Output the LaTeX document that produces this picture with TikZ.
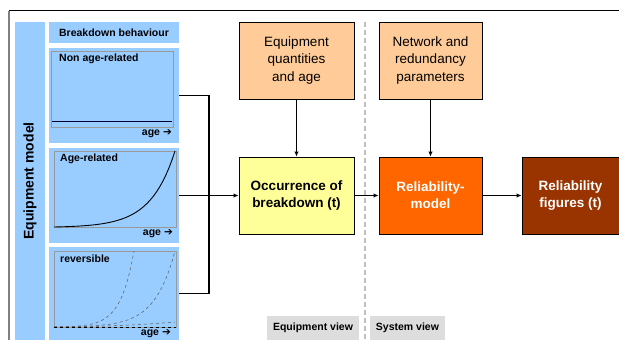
\documentclass[tikz,border=0pt]{standalone}
\usepackage{fontspec}
\setmainfont{Liberation Sans}
\newfontfamily\arrowfont{DejaVu Sans}
\usetikzlibrary{arrows.meta}

\definecolor{panelblue}{HTML}{99CCFF}
\definecolor{peach}{HTML}{FFCC99}
\definecolor{paleyellow}{HTML}{FFFF99}
\definecolor{relorange}{HTML}{FF6600}
\definecolor{relbrown}{HTML}{993300}
\definecolor{viewgray}{HTML}{DDDDDD}
\definecolor{framegray}{HTML}{999999}

\newcommand{\agearrow}{age {\arrowfont ➔}}

\tikzset{
  inputbox/.style={draw=black, line width=0.9pt, fill=peach, align=center,
    font=\fontsize{13.5}{17.5}\selectfont, inner sep=0pt},
  mainbox/.style={draw=black, line width=0.9pt, align=center,
    font=\fontsize{13.5}{17}\selectfont\bfseries, inner sep=0pt},
  panel/.style={fill=panelblue, minimum width=130pt, inner sep=0pt},
  small/.style={font=\fontsize{10.5}{12}\selectfont\bfseries, inner sep=0pt},
  viewlabel/.style={fill=viewgray, minimum height=24pt, inner sep=0pt,
    font=\fontsize{10.5}{12}\selectfont\bfseries},
  link/.style={line width=1.3pt},
  arrow/.style={line width=1.3pt, -{Latex[length=5pt,width=4.5pt]}}
}

\begin{document}
\begin{tikzpicture}[x=1pt,y=-1pt]
    \useasboundingbox (0,0) rectangle (619,340);
    % Frame
    \draw[gray, line width=1.5pt] (9,340) -- (9,10.5);
    \draw[line width=0.8pt] (9,10.5) -- (619,10.5);
    % Equipment model column
    \node[fill=panelblue, minimum width=318pt, minimum height=30pt, inner sep=0pt,
      rotate=90, font=\fontsize{14}{16}\selectfont\bfseries] (model) at (30,181) {Equipment model};
    % Breakdown behaviour panels
    \node[panel, minimum height=21pt, small] (behaviour) at (114,32.5) {Breakdown behaviour};
    \node[panel, minimum height=95pt] (nonage) at (114,95.5) {};
    \node[panel, minimum height=95pt] (agerel) at (114,195.5) {};
    \node[panel, minimum height=93pt] (revers) at (114,293.5) {};
    % Non age-related
    \draw[framegray, line width=0.8pt] (51,51) rectangle (173,127);
    \draw[black!80!blue, line width=0.8pt] (52,121) -- (172,121);
    \node[small, anchor=west] (lbla) at (59,59) {Non age-related};
    \node[small, anchor=east] (agea) at (172,134) {\agearrow};
    % Age-related
    \draw[framegray, line width=0.8pt] (54,151) rectangle (176,227);
    \draw[line width=0.9pt] plot[domain=0:1, samples=40]
      ({54+121*\x},{227-0.51556*(exp(5*\x)-1)});
    \node[small, anchor=west] (lblb) at (60,159) {Age-related};
    \node[small, anchor=east] (ageb) at (173,234) {\agearrow};
    % Reversible
    \draw[framegray, line width=0.8pt] (54,251) rectangle (176,327);
    \draw[black!65, dashed, line width=0.5pt] plot[domain=0:1, samples=40]
      ({54+80*\x},{327-0.18886*(exp(6*\x)-1)});
    \draw[black!65, dashed, line width=0.5pt] plot[domain=0:1, samples=40]
      ({54+121*\x},{327-0.18886*(exp(6*\x)-1)});
    \draw[black!65, dashed, line width=0.5pt] plot[domain=0:1, samples=20]
      ({54+121*\x},{327-5*\x*\x});
    \draw[dashed, line width=0.9pt] (54,327) -- (176,327);
    \node[small, anchor=west] (lblc) at (60,259) {reversible};
    \node[small, anchor=east] (agec) at (171,334) {\agearrow};
    % Boxes
    \node[inputbox, minimum width=115pt, minimum height=77pt] (quant) at (296.5,60.5)
      {Equipment\\quantities\\and age};
    \node[inputbox, minimum width=103pt, minimum height=77pt] (network) at (430.5,60.5)
      {Network and\\redundancy\\parameters};
    \node[mainbox, fill=paleyellow, minimum width=115pt, minimum height=77pt] (occur) at (296.5,195.5)
      {Occurrence of\\breakdown (t)};
    \node[mainbox, fill=relorange, text=white, minimum width=103pt, minimum height=77pt] (relmodel) at (430.5,195.5)
      {Reliability-\\model};
    \node[mainbox, fill=relbrown, text=white, minimum width=97pt, minimum height=77pt] (figures) at (570.5,195.5)
      {Reliability\\figures (t)};
    % View divider and labels
    \coordinate (divtop) at (365,22);
    \coordinate (divbot) at (365,340);
    \draw[black!25, line width=1.2pt, dash pattern=on 5pt off 3pt] (divtop) -- (divbot);
    \node[viewlabel, minimum width=92pt] (eqview) at (313,328) {Equipment view};
    \node[viewlabel, minimum width=75pt] (sysview) at (407.5,328) {System view};
    % Connectors
    \coordinate (join) at (209,195.5);
    \draw[link] (nonage.east) -| (join);
    \draw[link] (revers.east) -| (join);
    \draw[arrow] (agerel.east) -- (occur.west);
    \draw[arrow] (quant) -- (occur);
    \draw[arrow] (network) -- (relmodel);
    \draw[arrow] (occur) -- (relmodel);
    \draw[arrow] (relmodel) -- (figures);
\end{tikzpicture}
\end{document}
